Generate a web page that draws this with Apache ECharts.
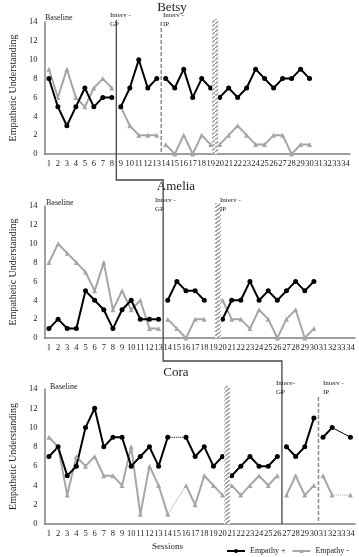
<!DOCTYPE html>
<html>
<head>
<meta charset="utf-8">
<script src="https://cdn.jsdelivr.net/npm/echarts@6/dist/echarts.min.js"></script>
<style>
  html, body { margin: 0; padding: 0; background: #fff; }
  #main { width: 359px; height: 557px; }
</style>
</head>
<body>
<div id="main"></div>
<script>
// sessions 1..34
const sessions = ['1','2','3','4','5','6','7','8','9','10','11','12','13','14','15','16','17',
  '18','19','20','21','22','23','24','25','26','27','28','29','30','31','32','33','34'];
const yTicks = [0, 2, 4, 6, 8, 10, 12, 14];

// Betsy
const betsyPos = [8,5,3,5,7,5,6,6, 5,7,10,7,8, 8,7,9,6,8,7, 6,7,6,7,9,8,7,8,8,9,8, null,null,null,null];
const betsyNeg = [9,6,9,6,5,7,8,7, 5,3,2,2,2, 1,0,2,0,2,1, 1,2,3,2,1,1,2,2,0,1,1, null,null,null,null];
const betsyBreaks = [8, 13, 19];   // last session of each phase

// Amelia
const ameliaPos = [1,2,1,1,5,4,3,1,3,4,2,2,2, 4,6,5,5,4,null, 2,4,4,6,4,5,4,5,6,5,6, null,null,null,null];
const ameliaNeg = [8,10,9,8,7,5,8,3,5,3,4,1,1, 2,1,0,2,2,null, 4,2,2,1,3,2,0,2,3,0,1, null,null,null,null];
const ameliaBreaks = [13, 19];

// Cora
const coraPos = [7,8,5,6,10,12,8,9,9,6,7,8,6,9,null,9,7,8,6,7, 5,6,7,6,6,7, 8,7,8,11, 9,10,null,9];
const coraNeg = [9,8,3,7,6,7,5,5,4,8,1,6,4,1,null,4,2,5,4,3, 4,3,4,5,4,5, 3,5,3,4, 5,3,null,3];
const coraBreaks = [20, 26, 30];
const coraGaps = [[14, 16], [32, 34]];  // missing sessions bridged by a thin line

const serif = 'Liberation Serif';
const posColor = '#000000';
const negColor = '#a6a6a6';

const grids = [
  { left: 29, top: 22, width: 321, height: 132 },
  { left: 29, top: 206, width: 326, height: 132 },
  { left: 29, top: 389, width: 326, height: 135 }
];

// cut a series into phases (nulls outside the phase)
function phases(data, breaks) {
  const bounds = [0].concat(breaks, [data.length]);
  const out = [];
  for (let i = 0; i < bounds.length - 1; i++) {
    out.push(data.map((v, k) => (k >= bounds[i] && k < bounds[i + 1]) ? v : null));
  }
  return out;
}

const series = [];
function addSubject(idx, pos, neg, breaks) {
  phases(neg, breaks).forEach(d => series.push({
    name: 'Empathy -', type: 'line', xAxisIndex: idx, yAxisIndex: idx, data: d,
    symbol: 'triangle', symbolSize: 5, color: negColor,
    lineStyle: { color: negColor, width: 2 }, itemStyle: { color: negColor },
    emphasis: { disabled: true }, animation: false
  }));
  phases(pos, breaks).forEach(d => series.push({
    name: 'Empathy +', type: 'line', xAxisIndex: idx, yAxisIndex: idx, data: d,
    symbol: 'circle', symbolSize: 5, color: posColor,
    lineStyle: { color: posColor, width: 2 }, itemStyle: { color: posColor },
    emphasis: { disabled: true }, animation: false
  }));
}
addSubject(0, betsyPos, betsyNeg, betsyBreaks);
addSubject(1, ameliaPos, ameliaNeg, ameliaBreaks);
addSubject(2, coraPos, coraNeg, coraBreaks);

// thin bridges across missing sessions in Cora
function bridge(data, a, b) {
  return data.map((v, k) => (k === a - 1 || k === b - 1) ? v : null);
}
const bridgeStyles = [
  { pos: 'dotted', posW: 1, neg: 'solid', negW: 1, negC: '#c8c8c8' },
  { pos: 'solid', posW: 1, neg: 'dotted', negW: 1, negC: negColor }
];
coraGaps.forEach((g, i) => {
  const st = bridgeStyles[i];
  series.push({
    name: 'bridge', type: 'line', xAxisIndex: 2, yAxisIndex: 2, data: bridge(coraNeg, g[0], g[1]),
    connectNulls: true, showSymbol: false, symbol: 'none',
    lineStyle: { color: st.negC, width: st.negW, type: st.neg }, z: 1, animation: false
  });
  series.push({
    name: 'bridge', type: 'line', xAxisIndex: 2, yAxisIndex: 2, data: bridge(coraPos, g[0], g[1]),
    connectNulls: true, showSymbol: false, symbol: 'none',
    lineStyle: { color: posColor, width: st.posW, type: st.pos }, z: 1, animation: false
  });
});

const xAxes = grids.map((g, i) => ({
  type: 'category', gridIndex: i, data: sessions, boundaryGap: true,
  axisLine: { lineStyle: { color: '#808080', width: 1.5 } },
  axisTick: { show: false },
  axisLabel: { interval: 0, fontSize: 8.5, color: '#222', fontFamily: serif, margin: 5 },
  splitLine: { show: false }
}));
const yAxes = grids.map((g, i) => ({
  type: 'value', gridIndex: i, min: yTicks[0], max: yTicks[yTicks.length - 1], interval: 2,
  name: 'Empathetic Understanding', nameLocation: 'middle', nameGap: 19,
  nameTextStyle: { fontSize: 10, color: '#222', fontFamily: serif },
  axisLine: { show: true, lineStyle: { color: '#808080', width: 1.5 } },
  axisTick: { show: false },
  axisLabel: { fontSize: 8.5, color: '#222', fontFamily: serif, margin: 7 },
  splitLine: { show: false }
}));

const chart = echarts.init(document.getElementById('main'));
chart.setOption({
  backgroundColor: '#fff',
  animation: false,
  grid: grids,
  xAxis: xAxes,
  yAxis: yAxes,
  legend: {
    data: ['Empathy +', 'Empathy -'], left: 221, top: 542,
    itemWidth: 18, itemHeight: 5, itemGap: 6,
    textStyle: { fontSize: 8, fontFamily: serif, color: '#222' }
  },
  series: series
});

// phase change lines drawn between sessions, placed through the axes
function midX(g, s) {
  const a = chart.convertToPixel({ xAxisIndex: g }, String(s));
  const b = chart.convertToPixel({ xAxisIndex: g }, String(s + 1));
  return (a + b) / 2;
}
function yPx(g, v) { return chart.convertToPixel({ yAxisIndex: g }, v); }

// hatch pattern for the break bars
const tile = document.createElement('canvas');
tile.width = 5; tile.height = 4;
const ctx = tile.getContext('2d');
ctx.fillStyle = '#fff'; ctx.fillRect(0, 0, 5, 4);
ctx.strokeStyle = '#999'; ctx.lineWidth = 1.4;
ctx.beginPath(); ctx.moveTo(0, 4); ctx.lineTo(5, 0); ctx.stroke();
const hatch = { image: tile, repeat: 'repeat' };

function hatchBar(g, s) {
  const x = midX(g, s);
  const top = yPx(g, 14) - 3, bot = yPx(g, 0);
  return { type: 'rect', shape: { x: x - 3, y: top, width: 6, height: bot - top },
    style: { fill: hatch, stroke: null }, z: 50 };
}
function dashLine(g, s, top) {
  const x = midX(g, s);
  return { type: 'line', shape: { x1: x, y1: top, x2: x, y2: yPx(g, 0) },
    style: { stroke: '#8c8c8c', lineWidth: 1.5, lineDash: [4, 2] }, z: 50 };
}
function label(text, x, y, size) {
  return { type: 'text', x: x, y: y,
    style: { text: text, font: (size || 7) + 'px "Liberation Serif"', fill: '#222' }, z: 60 };
}

const bx = midX(0, 8), ax = midX(1, 13), cx = midX(2, 26);
const graphics = [
  { type: 'polyline', shape: { points: [[bx, 20], [bx, 180], [ax, 180], [ax, 361], [cx, 361], [cx, yPx(2, 0)]] },
    style: { stroke: '#444', lineWidth: 1.3, fill: null }, z: 50 },
  dashLine(0, 13, 22),
  dashLine(2, 30, 397),
  hatchBar(0, 19), hatchBar(1, 19), hatchBar(2, 20),
  { type: 'text', x: 172, y: 1, style: { text: 'Betsy', font: '13px "Liberation Serif"', fill: '#222', textAlign: 'center' } },
  { type: 'text', x: 176, y: 180, style: { text: 'Amelia', font: '13px "Liberation Serif"', fill: '#222', textAlign: 'center' } },
  { type: 'text', x: 176, y: 366, style: { text: 'Cora', font: '13px "Liberation Serif"', fill: '#222', textAlign: 'center' } },
  label('Baseline', 45, 14, 8), label('Interv -', 110, 12), label('GP', 110, 21),
  label('Interv -', 163, 12), label('IP', 163, 21),
  label('Baseline', 46, 199, 8), label('Interv -', 155, 197), label('GP', 155, 206),
  label('Interv -', 220, 197), label('IP', 220, 206),
  label('Baseline', 50, 383, 8), label('Interv-', 276, 380), label('GP', 276, 389),
  label('Interv -', 323, 380), label('IP', 323, 389),
  label('Sessions', 152, 542, 9)
];
chart.setOption({ graphic: graphics });
</script>
</body>
</html>
